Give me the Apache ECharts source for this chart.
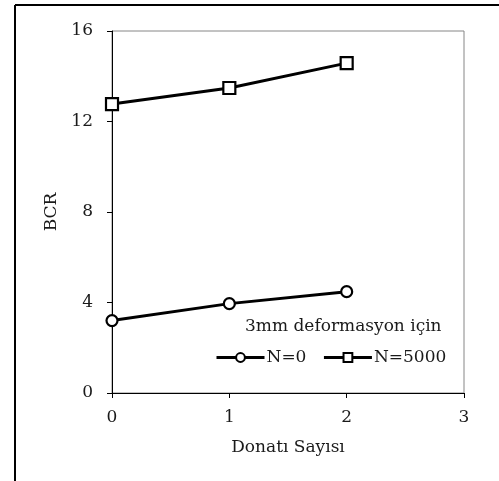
<!DOCTYPE html>
<html>
<head>
<meta charset="utf-8">
<script src="https://cdn.jsdelivr.net/npm/echarts@6/dist/echarts.min.js"></script>
<style>
html,body{margin:0;padding:0;background:#fff;}
#c{width:499px;height:481px;}
</style>
</head>
<body>
<div id="c"></div>
<script>
var xValues = [0, 1, 2];
var seriesN0 = [3.20, 3.95, 4.48];
var seriesN5000 = [12.77, 13.48, 14.58];
var seriesNames = ['N=0', 'N=5000'];
var xTicks = [0, 1, 2, 3];
var yTicks = [0, 4, 8, 12, 16];
var xTitle = 'Donatı Sayısı';
var yTitle = 'BCR';
var noteText = '3mm deformasyon için';

var FONT = 'DejaVu Serif';
var chart = echarts.init(document.getElementById('c'), null, {renderer: 'canvas'});

function pairs(xs, ys) { return xs.map(function (x, i) { return [x, ys[i]]; }); }

chart.setOption({
  animation: false,
  backgroundColor: '#fff',
  graphic: [
    { type: 'line', shape: { x1: 15, y1: 5, x2: 499, y2: 5 }, style: { stroke: '#000', lineWidth: 2 } },
    { type: 'line', shape: { x1: 15, y1: 5, x2: 15, y2: 481 }, style: { stroke: '#000', lineWidth: 2 } }
  ],
  title: {
    text: noteText,
    left: 240, top: 313,
    textStyle: { fontFamily: FONT, fontSize: 17, fontWeight: 'normal', color: '#1a1a1a' }
  },
  legend: {
    left: 210, top: 344,
    itemWidth: 48, itemHeight: 11, itemGap: 16,
    lineStyle: { width: 3, color: '#000' },
    itemStyle: { color: '#fff', borderColor: '#000', borderWidth: 2 },
    textStyle: { fontFamily: FONT, fontSize: 17, color: '#1a1a1a', padding: [0, 0, 0, -3] },
    data: seriesNames
  },
  grid: { left: 112, top: 31, right: 35, bottom: 88, show: true, borderColor: '#868686', borderWidth: 1 },
  xAxis: {
    type: 'value', min: 0, max: 3, interval: 1,
    name: xTitle, nameLocation: 'middle', nameGap: 46,
    nameTextStyle: { fontFamily: FONT, fontSize: 17, color: '#1a1a1a' },
    axisLine: { show: true, onZero: false, lineStyle: { color: '#000', width: 1 } },
    axisTick: { show: true, inside: false, length: 5, lineStyle: { color: '#000' } },
    axisLabel: { fontFamily: FONT, fontSize: 17, color: '#1a1a1a', margin: 16,
      formatter: function (v) { return xTicks.indexOf(v) >= 0 ? String(v) : ''; } },
    splitLine: { show: false }
  },
  yAxis: {
    type: 'value', min: 0, max: 16, interval: 4,
    name: yTitle, nameLocation: 'middle', nameGap: 52, nameRotate: 90,
    nameTextStyle: { fontFamily: FONT, fontSize: 17, color: '#1a1a1a' },
    axisLine: { show: true, onZero: false, lineStyle: { color: '#000', width: 1 } },
    axisTick: { show: true, inside: false, length: 5, lineStyle: { color: '#000' } },
    axisLabel: { fontFamily: FONT, fontSize: 17, color: '#1a1a1a', margin: 19,
      formatter: function (v) { return yTicks.indexOf(v) >= 0 ? String(v) : ''; } },
    splitLine: { show: false }
  },
  series: [
    {
      name: seriesNames[0], type: 'line', data: pairs(xValues, seriesN0),
      symbol: 'circle', symbolSize: 11, showAllSymbol: true,
      lineStyle: { color: '#000', width: 3 },
      itemStyle: { color: '#fff', borderColor: '#000', borderWidth: 2.2 }
    },
    {
      name: seriesNames[1], type: 'line', data: pairs(xValues, seriesN5000),
      symbol: 'rect', symbolSize: 12, showAllSymbol: true,
      lineStyle: { color: '#000', width: 3 },
      itemStyle: { color: '#fff', borderColor: '#000', borderWidth: 2.2 }
    }
  ]
});
</script>
</body>
</html>
